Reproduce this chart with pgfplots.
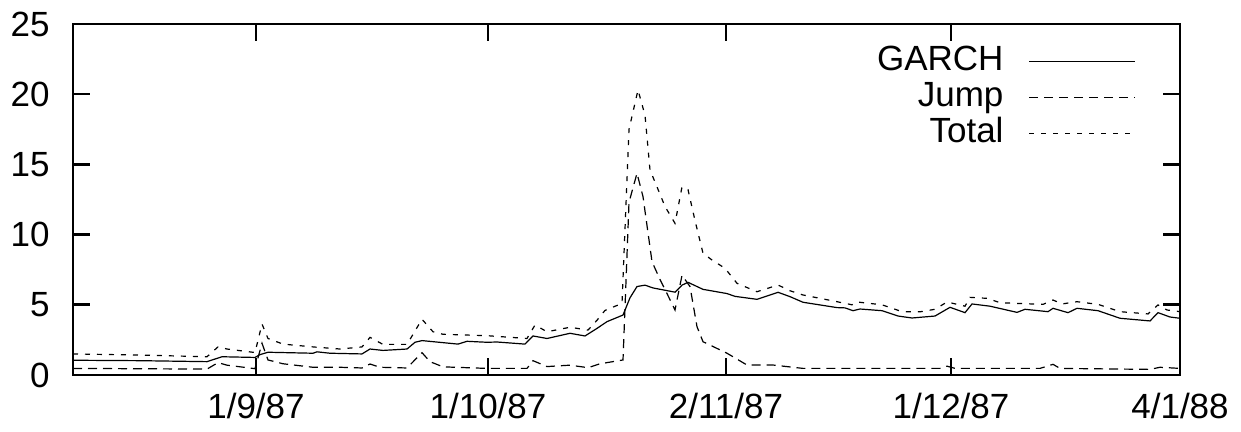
\documentclass[border=0pt]{standalone}
\usepackage{fontspec}
\setmainfont{Liberation Sans}
\usepackage{pgfplots}
\pgfplotsset{compat=1.18}
\begin{document}
\begin{tikzpicture}
\path[use as bounding box] (0,0) rectangle (620.5pt,216pt);
\begin{axis}[
  at={(36.5pt,28.5pt)}, anchor=south west,
  scale only axis, width=553.5pt, height=175.5pt,
  xmin=73, xmax=1180, ymin=0, ymax=25,
  xtick={256,488,726,951,1180},
  xticklabels={1/9/87,1/10/87,2/11/87,1/12/87,4/1/88},
  ytick={0,5,10,15,20,25},
  tick pos=both, xticklabel pos=lower, yticklabel pos=left,
  tick align=inside, major tick length=8.5pt,
  axis line style={line width=1.3pt},
  tick style={line width=1.3pt, black},
  tick label style={font=\fontsize{17.5}{21}\selectfont},
  /pgf/number format/assume math mode=true,
  yticklabel style={inner sep=0pt, xshift=-11.5pt},
  xticklabel style={inner sep=0pt, yshift=-9pt},
  legend plot pos=right,
  legend cell align=right,
  legend style={draw=none, fill=none, at={(0.9603,0.940)}, anchor=north east,
    font=\fontsize{17.5}{21}\selectfont, inner sep=0pt, row sep=2pt,
    nodes={inner sep=0pt, text height=12.5pt, text depth=3.5pt},
    /tikz/every odd column/.append style={column sep=12.5pt}},
  legend image code/.code={\draw[#1] (0pt,0pt) -- (53pt,0pt);},
  every axis plot/.append style={line width=0.6pt, black},
]
\addplot[solid] coordinates {
(73,1.05) (140,1.02) (207,0.95) (222,1.3) (255,1.25) (260,1.45) (268,1.62)
(313,1.55) (317,1.65) (330,1.55) (362,1.5) (370,1.85) (383,1.75) (407,1.85)
(415,2.33) (422,2.45) (458,2.2) (467,2.4) (487,2.33) (497,2.35) (525,2.2)
(533,2.78) (547,2.6) (570,2.97) (585,2.78) (597,3.32) (607,3.8) (623,4.27)
(630,5.5) (637,6.3) (645,6.4) (653,6.2) (675,5.9) (682,6.4) (688,6.6)
(703,6.1) (727,5.8) (735,5.6) (757,5.39) (778,5.89) (790,5.58) (803,5.18)
(837,4.8) (845,4.78) (853,4.58) (860,4.7) (882,4.58) (898,4.2) (912,4.06)
(935,4.2) (950,4.82) (965,4.44) (972,5.06) (990,4.9) (1017,4.46) (1025,4.68)
(1048,4.51) (1053,4.75) (1068,4.44) (1077,4.75) (1098,4.58) (1120,4.04)
(1150,3.85) (1158,4.44) (1170,4.13) (1180,4.04)
};
\addlegendentry{GARCH}
\addplot[dash pattern=on 4.5pt off 3pt] coordinates {
(73,0.47) (207,0.42) (218,0.88) (227,0.7) (255,0.45) (262,2.26) (268,1.07)
(283,0.8) (313,0.55) (340,0.55) (362,0.5) (370,0.78) (380,0.55) (407,0.5)
(422,1.59) (430,0.95) (443,0.58) (487,0.47) (527,0.47) (533,1.02) (547,0.6)
(570,0.7) (588,0.52) (600,0.8) (623,1.07) (629,12.3) (637,14.37) (643,12.7)
(652,8.07) (660,6.8) (667,5.8) (675,4.63) (682,7.1) (690,6.3) (697,3.44)
(703,2.37) (727,1.55) (747,0.71) (773,0.71) (803,0.47) (940,0.47) (947,0.63)
(955,0.47) (1040,0.47) (1053,0.76) (1060,0.47) (1150,0.4) (1160,0.55) (1180,0.47)
};
\addlegendentry{Jump}
\addplot[dash pattern=on 2.5pt off 3.5pt] coordinates {
(73,1.5) (140,1.42) (207,1.3) (218,2.0) (227,1.85) (255,1.6) (262,3.63)
(268,2.6) (283,2.2) (313,2.0) (340,1.85) (362,2.0) (370,2.68) (383,2.18)
(407,2.18) (422,3.97) (433,3.08) (443,2.9) (487,2.8) (527,2.6) (535,3.56)
(547,3.08) (570,3.4) (588,3.2) (597,3.9) (605,4.6) (622,5.1) (629,17.5)
(638,20.3) (645,18.5) (650,14.6) (657,13.4) (665,12.0) (675,10.8) (682,13.4)
(688,13.2) (695,11.0) (703,8.67) (712,8.19) (725,7.6) (737,6.53) (757,5.93)
(778,6.41) (790,6.0) (803,5.7) (837,5.22) (852,5.0) (857,5.2) (882,5.0)
(902,4.51) (920,4.5) (935,4.68) (947,5.2) (965,4.9) (970,5.53) (987,5.46)
(1000,5.15) (1017,5.1) (1043,5.03) (1053,5.34) (1062,5.06) (1077,5.22)
(1098,5.03) (1120,4.51) (1148,4.35) (1158,4.99) (1167,4.63) (1180,4.51)
};
\addlegendentry{Total}
\end{axis}
\end{tikzpicture}
\end{document}
